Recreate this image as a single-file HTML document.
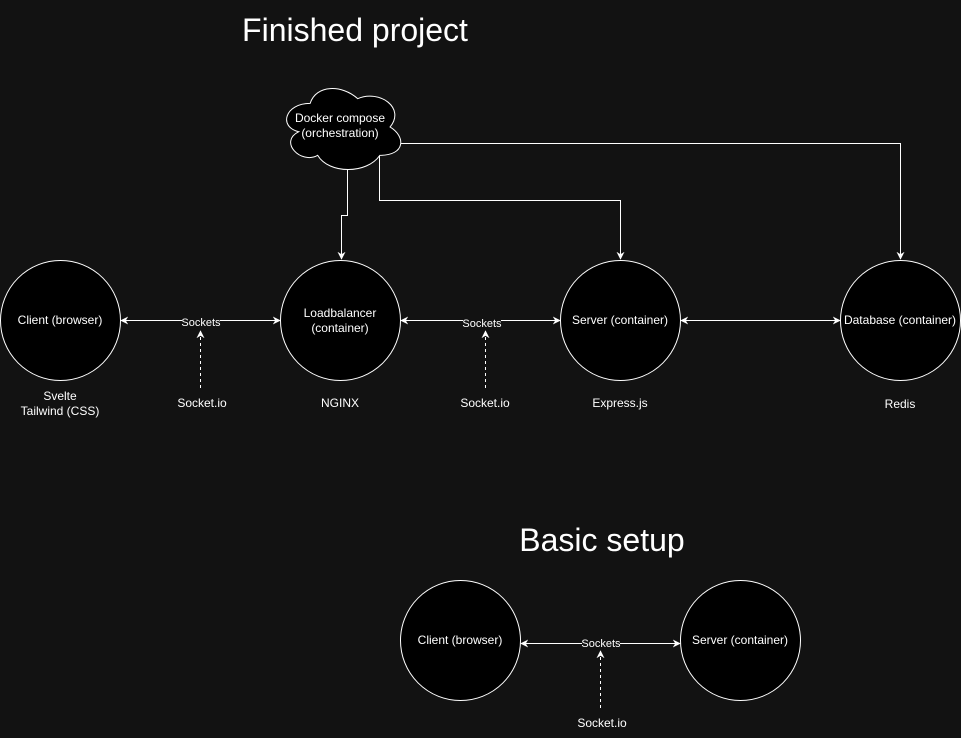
<!DOCTYPE html>
<html><head><meta charset="utf-8"><style>
html,body{margin:0;padding:0;background:#121212;}
svg{display:block;font-family:"Liberation Sans",sans-serif;}
</style></head><body>
<svg width="961" height="738" viewBox="0 0 961 738" xmlns="http://www.w3.org/2000/svg">
<defs>
<marker id="a" viewBox="0 0 10 10" refX="9" refY="5" markerWidth="8" markerHeight="8" orient="auto-start-reverse" markerUnits="userSpaceOnUse"><path d="M0,0 L10,5 L0,10 L3,5 Z" fill="#fff"/></marker>
</defs>
<rect width="961" height="738" fill="#121212"/>
<text x="355" y="41" font-size="32" fill="#fff" text-anchor="middle">Finished project</text>
<text x="602" y="551" font-size="32" fill="#fff" text-anchor="middle">Basic setup</text>

<g stroke="#fff" fill="none" stroke-width="1">
<path d="M347.5,166 V215.5 H341.5 V259" marker-end="url(#a)"/>
<path d="M379.5,152 V200.5 H620.5 V259" marker-end="url(#a)"/>
<path d="M401,143.5 H900.5 V259" marker-end="url(#a)"/>
<line x1="121" y1="320.5" x2="280" y2="320.5" marker-start="url(#a)" marker-end="url(#a)"/>
<line x1="401" y1="320.5" x2="560" y2="320.5" marker-start="url(#a)" marker-end="url(#a)"/>
<line x1="681" y1="320.5" x2="840" y2="320.5" marker-start="url(#a)" marker-end="url(#a)"/>
<line x1="521" y1="643.5" x2="680" y2="643.5" marker-start="url(#a)" marker-end="url(#a)"/>
<line x1="200.5" y1="388" x2="200.5" y2="331" stroke-dasharray="3,3" marker-end="url(#a)"/>
<line x1="485.5" y1="388" x2="485.5" y2="331" stroke-dasharray="3,3" marker-end="url(#a)"/>
<line x1="600.5" y1="708" x2="600.5" y2="651" stroke-dasharray="3,3" marker-end="url(#a)"/>
</g>

<path transform="translate(342,127) scale(1.08,1.05) translate(-342,-127)" d="M312.5,104.5 C289,104.5 283,127 302,131.5 C283,141 304,163 319.5,154 C330,172 365,172 377,154 C401,154 401,136 386.5,127 C401,109 377,91 356.5,100 C342,86.5 318,86.5 312.5,104.5 Z" fill="#000" stroke="#fff" stroke-width="1" vector-effect="non-scaling-stroke"/>
<text x="340" y="122" font-size="12" fill="#fff" text-anchor="middle">Docker compose</text>
<text x="340" y="137" font-size="12" fill="#fff" text-anchor="middle">(orchestration)</text>

<g fill="#000" stroke="#fff" stroke-width="1">
<circle cx="60.5" cy="320.5" r="60"/>
<circle cx="340.5" cy="320.5" r="60"/>
<circle cx="620.5" cy="320.5" r="60"/>
<circle cx="900.5" cy="320.5" r="60"/>
<circle cx="460.5" cy="640.5" r="60"/>
<circle cx="740.5" cy="640.5" r="60"/>
</g>

<g font-size="12" fill="#fff" text-anchor="middle">
<text x="60" y="324">Client (browser)</text>
<text x="340" y="317">Loadbalancer</text>
<text x="340" y="332">(container)</text>
<text x="620" y="324">Server (container)</text>
<text x="900" y="324">Database (container)</text>
<text x="460" y="644">Client (browser)</text>
<text x="740" y="644">Server (container)</text>
<text x="60" y="400">Svelte</text>
<text x="60" y="415">Tailwind (CSS)</text>
<text x="202" y="407">Socket.io</text>
<text x="340" y="407">NGINX</text>
<text x="485" y="407">Socket.io</text>
<text x="620" y="407">Express.js</text>
<text x="900" y="408">Redis</text>
<text x="602" y="727">Socket.io</text>
</g>
<g font-size="11" text-anchor="middle">
<rect x="182" y="315" width="38" height="13" fill="#121212"/>
<text x="201" y="326" fill="#fff">Sockets</text>
<rect x="463" y="315" width="38" height="13" fill="#121212"/>
<text x="482" y="327" fill="#fff">Sockets</text>
<rect x="582" y="637" width="38" height="13" fill="#121212"/>
<text x="601" y="647" fill="#fff">Sockets</text>
</g>
</svg>
</body></html>
